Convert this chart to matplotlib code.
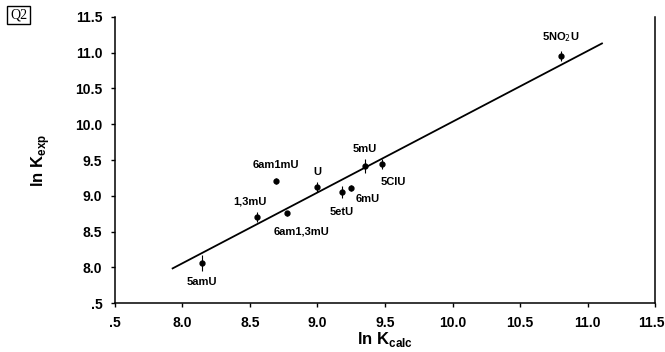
import numpy as np
import matplotlib.pyplot as plt
from matplotlib.transforms import ScaledTranslation

plt.rcParams['font.family'] = ['Liberation Sans', 'DejaVu Sans']

# ln K calc / ln K exp for each compound, with error bar half-widths
names = ['5amU', '1,3mU', '6am1mU', '6am1,3mU', 'U', '5etU', '6mU', '5mU', '5ClU', '5NO$_2$U']
lnk_calc = [8.147, 8.552, 8.690, 8.776, 9.000, 9.178, 9.251, 9.352, 9.476, 10.80]
lnk_exp = [8.064, 8.707, 9.210, 8.754, 9.118, 9.050, 9.113, 9.420, 9.444, 10.96]
err = [0.11, 0.07, 0.04, 0.04, 0.07, 0.08, 0.04, 0.10, 0.07, 0.07]

# regression line
fit_slope = 0.989
fit_icept = 0.145
fit_xrange = [7.927, 11.107]

ticks = [7.5, 8.0, 8.5, 9.0, 9.5, 10.0, 10.5, 11.0, 11.5]
tick_labels = ['.5', '8.0', '8.5', '9.0', '9.5', '10.0', '10.5', '11.0', '11.5']

# label offsets in points (dx, dy)
lab_off = [(0, -14), (-5, 11), (0, 11), (10, -13), (0, 11), (0, -14), (12, -8), (0, 12), (8, -13), (0, 13)]

fig = plt.figure(figsize=(6.65, 3.52), dpi=100)
ax = fig.add_axes([0.1729, 0.139, 0.8121, 0.8128])

xf = np.array(fit_xrange)
ax.plot(xf, fit_slope * xf + fit_icept, color='black', lw=1.3, zorder=2)
ax.errorbar(lnk_calc, lnk_exp, yerr=err, fmt='o', color='black', ms=3.5,
            elinewidth=0.8, capsize=0, zorder=3)

for n, xv, yv, (dx, dy) in zip(names, lnk_calc, lnk_exp, lab_off):
    ax.annotate(n, (xv, yv), xytext=(dx, dy), textcoords='offset points',
                ha='center', va='center', fontsize=8, fontweight='bold')

ax.set_xlim(7.5, 11.5)
ax.set_ylim(7.5, 11.5)
ax.set_xticks(ticks)
ax.set_xticklabels(tick_labels)
ax.set_yticks(ticks)
ax.set_yticklabels(tick_labels)
ax.tick_params(direction='out', length=3, width=1, labelsize=10, pad=6)
for lab in ax.get_xticklabels() + ax.get_yticklabels():
    lab.set_fontweight('bold')
# keep the last x label inside the figure
last = ax.get_xticklabels()[-1]
last.set_transform(last.get_transform() + ScaledTranslation(-4 / 100, 0, fig.dpi_scale_trans))
ax.spines['top'].set_visible(False)
for s in ['left', 'bottom', 'right']:
    ax.spines[s].set_linewidth(1.1)

ax.set_xlabel('ln K$_{\\mathregular{calc}}$', fontsize=12, fontweight='bold', labelpad=0)
ax.set_ylabel('ln K$_{\\mathregular{exp}}$', fontsize=12, fontweight='bold', labelpad=17)

fig.text(0.028, 0.957, 'Q2', fontsize=10, family='Liberation Serif', ha='center', va='center',
         bbox=dict(boxstyle='square,pad=0.2', fc='white', ec='black', lw=1))

fig.savefig('out.png', dpi=100)
